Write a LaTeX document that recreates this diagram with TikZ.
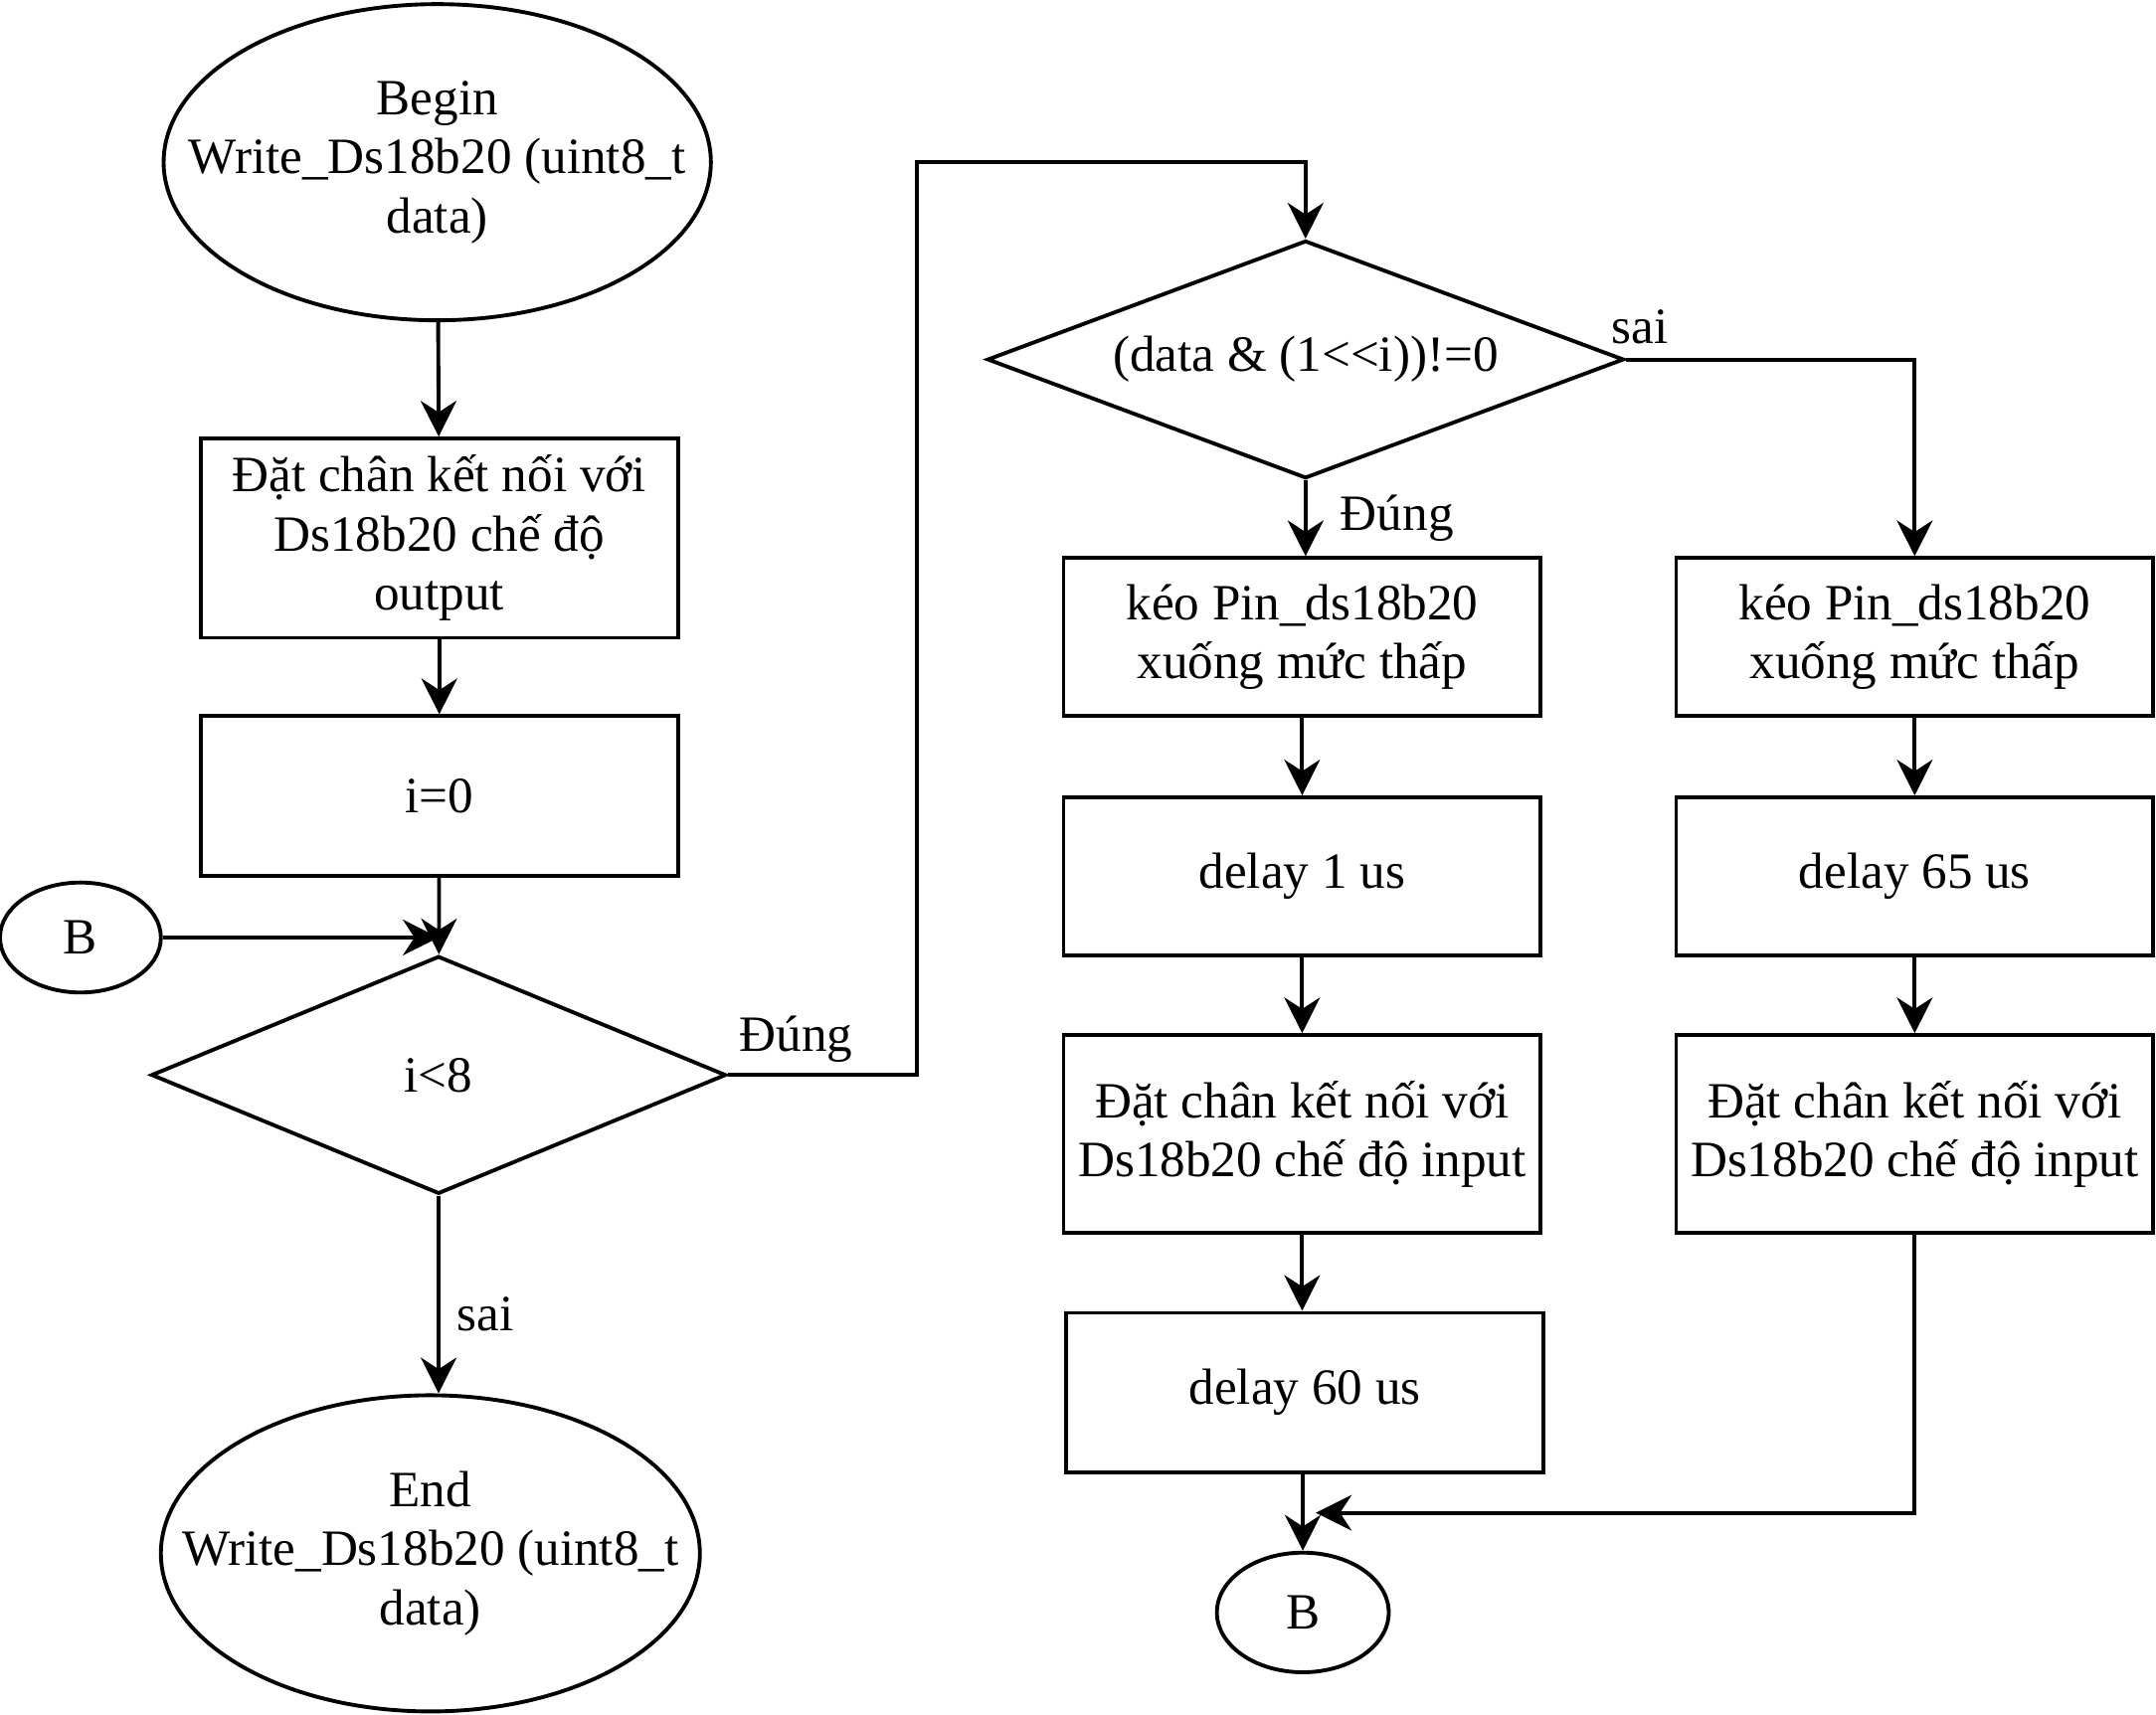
\documentclass[tikz,border=0pt]{standalone}
\usepackage{fontspec}
\setmainfont{Liberation Serif}
\usetikzlibrary{shapes.geometric,arrows.meta}
\begin{document}
\begin{tikzpicture}[x=0.5pt,y=-0.5pt,line width=1.4pt,
    every node/.style={font=\fontsize{18.5}{21.5}\selectfont,align=center,inner sep=0pt},
    term/.style={draw,ellipse,inner xsep=-22pt,minimum width=#1,minimum height=115pt},
    proc/.style={draw,rectangle,minimum width=173.5pt,minimum height=#1},
    conn/.style={draw,ellipse,minimum width=#1,minimum height=43.5pt},
    >={Stealth[length=13pt,width=13pt,inset=4.2pt]}]
  \useasboundingbox (0,0) rectangle (1568,1247);
  \draw
    (318,118) node[term=199pt] (begin){Begin\\Write\_Ds18b20 (uint8\_t\\data)}
    (319.5,391.5) node[proc=72.5pt] (setout){Đặt chân kết nối với\\Ds18b20 chế độ\\output}
    (319.5,579) node[proc=58pt] (init){i=0}
    (58.5,682) node[draw,ellipse,minimum width=58.5pt,minimum height=40pt] (bL){B}
    (319,782) node[draw,diamond,aspect=2.42,minimum width=209pt,minimum height=86.5pt] (loop){i<8}
    (313,1130) node[term=196pt] (end){End\\Write\_Ds18b20 (uint8\_t\\data)}
    (949.5,261.5) node[draw,diamond,aspect=2.68,minimum width=231.5pt,minimum height=86.5pt] (bit){(data \& (1{<}{<}i))!=0}
    (947,463.5) node[proc=57.5pt] (lowA){kéo Pin\_ds18b20\\xuống mức thấp}
    (947,637.5) node[proc=57.5pt] (d1){delay 1 us}
    (947,825) node[proc=72pt] (inA){Đặt chân kết nối với\\Ds18b20 chế độ input}
    (949,1013) node[proc=58pt] (d60){delay 60 us}
    (947.5,1173) node[conn=62.5pt] (bB){B}
    (1392.5,463.5) node[proc=57.5pt] (lowB){kéo Pin\_ds18b20\\xuống mức thấp}
    (1392.5,637.5) node[proc=57.5pt] (d65){delay 65 us}
    (1392.5,825) node[proc=72pt] (inB){Đặt chân kết nối với\\Ds18b20 chế độ input};
  \coordinate (joinL) at (319,682);
  \coordinate (joinB) at (957,1100.5);
  \begin{scope}[->]
    \draw (begin) -- (setout);
    \draw (setout) -- (init);
    \draw (init) -- (loop);
    \draw (bL) -- (joinL);
    \draw (loop.south) -- (loop.south |- end.north) node[pos=0.6,right=6pt] {sai};
    \draw (loop.east) -- (667,782) node[pos=0.36,above=4pt] {Đúng}
      -- (667,118) -- (949.5,118) -- (bit.north);
    \draw (bit.south) -- (bit.south |- lowA.north) node[midway,right=12pt] {Đúng};
    \draw (bit.east) -- (1392.5,261.5) node[pos=0.05,above=5pt] {sai} -- (lowB.north);
    \draw (lowA) -- (d1);
    \draw (d1) -- (inA);
    \draw (inA) -- (inA |- d60.north);
    \draw (d60.south -| bB) -- (bB);
    \draw (lowB) -- (d65);
    \draw (d65) -- (inB);
    \draw (inB.south) -- (inB.south |- joinB) -- (joinB);
  \end{scope}
\end{tikzpicture}
\end{document}
